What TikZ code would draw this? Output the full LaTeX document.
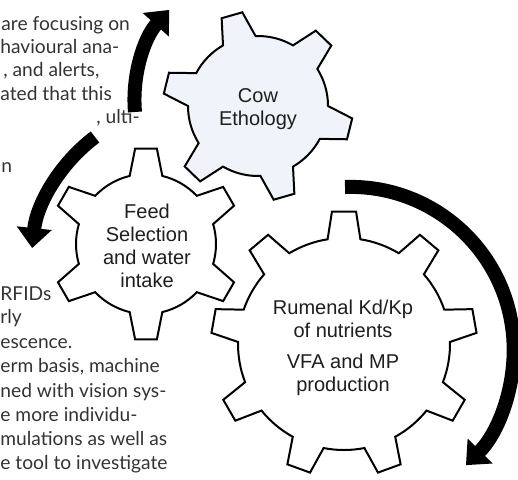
\documentclass[tikz,border=0pt]{standalone}
\usepackage{fontspec}
\setmainfont{Liberation Sans}
\newfontfamily\pagefont{Lato}
\usetikzlibrary{calc,arrows.meta}
\definecolor{cowblue}{RGB}{240,244,250}
\definecolor{textgray}{RGB}{51,51,51}
\definecolor{labelgray}{RGB}{30,30,30}

\begin{document}
\begin{tikzpicture}[x=0.5pt,y=0.5pt,
    gearline/.style={draw=black, line width=1pt, line join=miter},
    gearlabel/.style={align=center, text=labelgray, inner sep=0pt, font=\fontsize{10}{11.5}\selectfont},
    cyclearrow/.style={line width=7pt, -{Triangle[width=17pt,length=10pt]}},
    pagetext/.style={anchor=base west, inner sep=0pt, text=textgray, font=\pagefont\fontsize{9.6}{12}\selectfont}]
\useasboundingbox (0,0) rectangle (518,479);

% text of the page round the figure
\node[pagetext] (lineA) at (1,449) {are focusing on};
\node[pagetext] (lineB) at (0,426) {havioural ana-};
\node[pagetext] (lineC) at (3,403) {, and alerts,};
\node[pagetext] (lineD) at (0,379) {ated that this};
\node[pagetext] (lineE) at (96,356) {, ulti-};
\node[pagetext] (lineF) at (1,307) {n};
\node[pagetext] (lineG) at (0,179) {RFIDs};
\node[pagetext] (lineH) at (0,156) {rly};
\node[pagetext] (lineI) at (0,131) {escence.};
\node[pagetext] (lineJ) at (0,107) {erm basis, machine};
\node[pagetext] (lineK) at (0,82) {ned with vision sys-};
\node[pagetext] (lineL) at (0,58) {e more individu-};
\node[pagetext] (lineM) at (0,34) {mulations as well as};
\node[pagetext] (lineN) at (0,10) {e tool to investigate};

% gear centres
\coordinate (cowc) at (258,373);
\coordinate (feedc) at (146,235);
\coordinate (rumenc) at (344,135);

% feed selection gear, 6 teeth
\draw[gearline, fill=white] ($(feedc)+(103.5:70)$)
  \foreach \a in {90,30,...,-210} {
    -- ($(feedc)+(\a+13.5:70)$) -- ($(feedc)+(\a+6.5:96)$)
    -- ($(feedc)+(\a-6.5:96)$) -- ($(feedc)+(\a-13.5:70)$)
    arc[start angle=\a-13.5, end angle=\a-46.5, radius=70]
  } -- cycle;

% rumen gear, 9 teeth
\draw[gearline, fill=white] ($(rumenc)+(98.9:106)$)
  \foreach \a in {90,50,...,-230} {
    -- ($(rumenc)+(\a+8.9:106)$) -- ($(rumenc)+(\a+5.2:133)$)
    -- ($(rumenc)+(\a-5.2:133)$) -- ($(rumenc)+(\a-8.9:106)$)
    arc[start angle=\a-8.9, end angle=\a-31.1, radius=106]
  } -- cycle;

% cow gear, 6 teeth
\draw[gearline, fill=cowblue] ($(cowc)+(120:70)$)
  \foreach \a in {106,46,...,-194} {
    -- ($(cowc)+(\a+14:70)$) -- ($(cowc)+(\a+6.5:95)$)
    -- ($(cowc)+(\a-6.5:95)$) -- ($(cowc)+(\a-14:70)$)
    arc[start angle=\a-14, end angle=\a-46, radius=70]
  } -- cycle;

\node[gearlabel] (cow) at (258,370) {Cow\\Ethology};
\node[gearlabel] (feed) at (147,233) {Feed\\Selection\\and water\\intake};
\node[gearlabel] (rumen) at (343,131) {Rumenal Kd/Kp\\of nutrients\\[4pt]VFA and MP\\production};

% turning arrows
\coordinate (tailA) at (135,367);
\coordinate (tailB) at (95,342);
\coordinate (tailC) at (345,292);
\draw[cyclearrow] (tailA) arc[start angle=185, end angle=138, radius=135];
\draw[cyclearrow] (tailB) arc[start angle=127, end angle=174, radius=160];
\draw[cyclearrow] (tailC) arc[start angle=92, end angle=-45, radius=163];
\end{tikzpicture}
\end{document}
